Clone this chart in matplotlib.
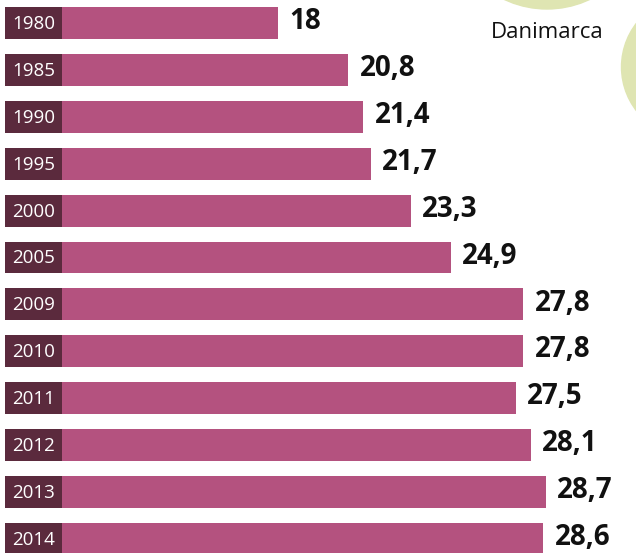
import matplotlib
matplotlib.use("Agg")
import matplotlib.pyplot as plt
from matplotlib.patches import Ellipse

years = ["1980", "1985", "1990", "1995", "2000", "2005",
         "2009", "2010", "2011", "2012", "2013", "2014"]
values = [18, 20.8, 21.4, 21.7, 23.3, 24.9, 27.8, 27.8, 27.5, 28.1, 28.7, 28.6]
value_labels = ["18", "20,8", "21,4", "21,7", "23,3", "24,9",
                "27,8", "27,8", "27,5", "28,1", "28,7", "28,6"]

bar_color = "#b4527f"
box_color = "#5b2a3d"
fonts = ["Open Sans", "DejaVu Sans"]

W, H = 636, 553
fig = plt.figure(figsize=(W / 100, H / 100), dpi=100)
ax = fig.add_axes([5 / W, 0, 1 - 5 / W, 1])

x0 = 7.08
y = list(range(len(years)))
bars = ax.barh(y, values, height=0.68, color=bar_color, left=0)

# dark year boxes at the left end of each bar
for i, yr in enumerate(years):
    ax.barh(i, 2.28, left=x0, height=0.68, color=box_color)
    ax.text(x0 + 0.28, i + 0.02, yr, color="white", fontsize=13.5,
            family=fonts, va="center", ha="left")

for b, lab in zip(bars, value_labels):
    ax.annotate(lab, (b.get_width(), b.get_y() + b.get_height() / 2),
                xytext=(8.5, 1), textcoords="offset points",
                va="center", ha="left", fontsize=20, fontweight="bold",
                family=fonts, color="#111111")

fig.text(547 / W, 1 - 32 / H, "Danimarca", fontsize=16, family=fonts,
         ha="center", va="center", color="#111111")

# faint green circles peeking in at the top right
fig.patches.append(Ellipse((547 / W, 1 + 91 / H), 200 / W, 200 / H,
                           transform=fig.transFigure, color="#dfe5b2", zorder=0))
fig.patches.append(Ellipse((693 / W, 1 - 67 / H), 143 / W, 143 / H,
                           transform=fig.transFigure, color="#dfe5b2", zorder=0))

ax.set_xlim(x0, 32.32)
ax.set_ylim(11.3, -0.49)
ax.axis("off")

fig.savefig("out.png", dpi=100)
